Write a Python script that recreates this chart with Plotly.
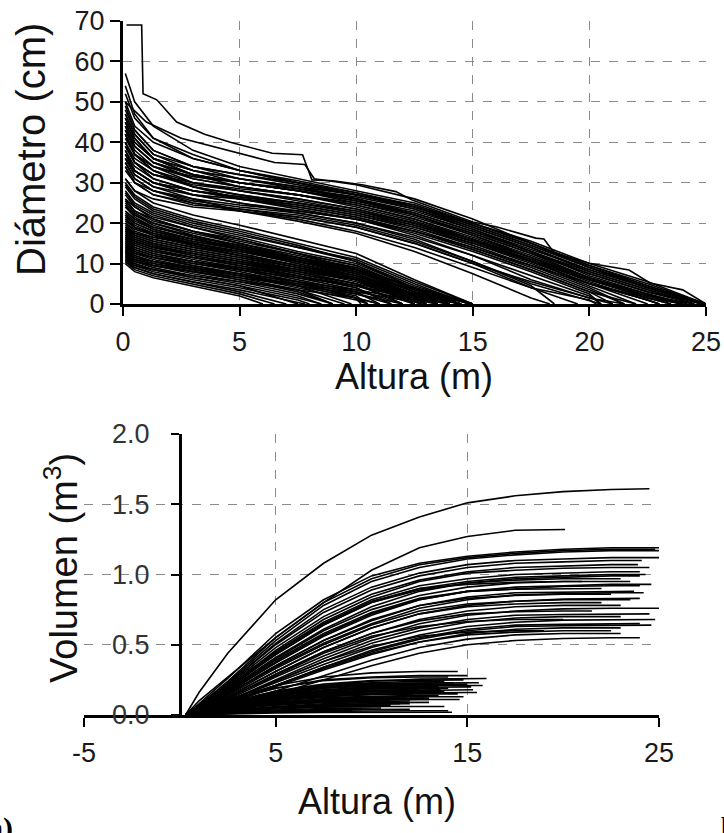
import plotly.graph_objects as go

W, H = 724, 833

# ---------------- Top panel: diameter profiles (Altura m, Diámetro cm) ----------------
DIAM_HEIGHTS = [0.1, 0.5, 1.3, 3, 5, 7.5, 10, 12.5, 15, 17.5, 20, 22.5]

# large trees: (total height, diameters at DIAM_HEIGHTS)
LARGE_STEMS = [
    (25.0, [57, 50, 44, 38, 34, 31, 28, 25, 20, 15, 9, 4]),
    (24.8, [52, 46, 41, 37, 33, 30, 27, 24, 19, 14, 8, 3.5]),
    (24.5, [50, 44, 40, 36, 33, 30, 27, 23.5, 18.5, 13, 7.5, 3]),
    (24.2, [48, 43, 38, 34, 31, 29, 26, 22.5, 18, 13, 7, 2.5]),
    (24.0, [47, 42, 37, 33, 30, 28, 25.5, 22, 17.5, 12.5, 6.5, 2.5]),
    (24.0, [46, 41, 36, 33, 31, 28.5, 26, 22, 17, 12, 6.5, 2]),
    (23.5, [45, 40, 36, 32, 30, 28, 25, 21.5, 17, 11.5, 6, 1.5]),
    (23.5, [44, 39, 35, 31, 29, 27, 24.5, 21, 16.5, 11.5, 6, 1.5]),
    (23.0, [43, 38, 34, 31, 29, 27, 24, 20.5, 16, 11, 5.5, 1]),
    (23.0, [42, 37, 34, 30, 28, 26, 23.5, 20, 15.5, 10.5, 5, 1]),
    (22.0, [41, 37, 33, 30, 28, 25.5, 23, 19.5, 15, 10, 4.5]),
    (21.5, [40, 36, 33, 29, 27, 25, 22.5, 19, 14.5, 9.5, 4]),
    (24.0, [40, 35, 32, 29, 27, 25, 22.5, 19.5, 15.5, 11, 6, 2]),
    (21.5, [39, 35, 31, 28, 26, 24.5, 22, 18.5, 14, 9, 3.5]),
    (24.5, [38, 34, 31, 28, 26.5, 24.5, 22, 19, 15, 10.5, 6, 2]),
    (21.0, [37, 33, 30, 27, 26, 24, 21.5, 18, 13.5, 8.5, 3]),
    (20.5, [36, 32, 29, 27, 25, 23, 21, 17.5, 13, 8, 2.5]),
    (24.0, [35, 31, 28, 26, 24.5, 23, 21, 18, 14, 9.5, 5, 1.5]),
    (20.5, [34, 30, 28, 25.5, 24, 22.5, 20, 16.5, 12, 7, 2]),
    (20.5, [33, 30, 27, 25, 23.5, 22, 19.5, 15.5, 10.5, 5, 0.8]),
    (25.0, [44, 39, 35, 32, 30, 28.5, 26.5, 23.5, 19, 14, 8.5, 4]),
    (25.0, [49, 43, 38, 34, 32, 29.5, 27, 24, 20, 15, 9.5, 4.5]),
    (20.3, [36, 32, 29, 26, 23, 21, 18, 14, 9, 4, 1]),
    (21.0, [42, 37, 33, 29, 26, 23.5, 21, 17, 12, 6, 1.5]),
    (18.5, [38, 33, 30, 27, 25, 22.5, 20, 16, 10.5, 4.5]),
    (18.3, [35, 31, 28, 25, 23, 20.5, 17.5, 13, 7.5, 1.5]),
    (25.0, [45, 40, 36, 33, 31, 29, 27, 24.5, 20, 15.5, 10, 5.5]),
    (25.0, [40, 35, 32, 30, 28.5, 27, 25, 22, 17.5, 12.5, 7.5, 3]),
    (21.5, [31, 28, 26, 24, 23, 21.5, 19, 15, 10, 5.5, 1.5]),
    (25.0, [47, 42, 37, 34, 32, 30, 27.5, 24.5, 19.5, 14.5, 9, 4.5]),
    (24.5, [43, 39, 35, 32, 30, 28, 25.5, 22.5, 18, 13, 8, 3.5]),
    (23.0, [39, 35, 32, 29.5, 28, 26, 23.5, 20, 15.5, 10.5, 5, 1]),
    (22.5, [46, 41, 36, 32, 29, 27, 24.5, 21, 16, 10.5, 5]),
    (24.0, [37, 33, 30, 28, 26.5, 25, 23, 20, 16, 11.5, 6.5, 2]),
    (25.0, [42, 37, 34, 31.5, 30, 28, 26, 23, 18.5, 13.5, 8.5, 4]),
    (19.5, [34, 30, 27, 24.5, 23.5, 21.5, 19, 15, 10, 4]),
    (24.8, [54, 47, 41, 36, 33, 30.5, 27.5, 24, 19.5, 14.5, 9, 4]),
    (22.0, [36, 33, 30, 28, 26, 24, 21.5, 18, 13.5, 8.5, 3]),
]

# the two irregular large stems (explicit height / diameter readings)
OUTLIER_H = [0.15, 0.8, 0.86, 1.45, 2.3, 3.5, 4.6, 6.4, 7.7, 8.1, 9.0, 10.25, 11.7,
             12.4, 15.0, 16.0, 17.7, 18.05, 18.5, 20.0, 21.7, 22.6, 24.0, 25.0]
OUTLIER_D = [69, 69, 52, 50.5, 45, 42, 40, 37.3, 36.9, 30.7, 30.5, 29.5, 27.8,
             25.7, 20.3, 19.1, 16.3, 16.1, 12.6, 10.1, 8.4, 5.2, 3.5, 0]
SECOND_H = [0.1, 1.0, 2.5, 4.5, 6.5, 7.8, 8.2, 10, 12.5, 15, 17.5, 20, 22.5, 25]
SECOND_D = [50, 45, 41, 38, 35, 34.5, 31, 29.5, 26, 21, 15, 9.5, 5, 0]

# small trees: (total height, diameters at DIAM_HEIGHTS)
SMALL_STEMS = [
    (15.0, [31, 28, 25, 22, 19.5, 16, 12.5, 6]),
    (15.0, [30, 27, 24, 21, 18.5, 15, 11.5, 5.5]),
    (14.8, [29, 26, 23, 20, 17.5, 14, 11, 5]),
    (15.0, [28, 25, 22.5, 19.5, 17, 14, 10.5, 4.5]),
    (14.5, [27, 24, 21.5, 19, 16.5, 13, 10, 4]),
    (15.0, [26, 23, 21, 18, 16, 12.5, 9.5, 3.5]),
    (14.5, [25, 22.5, 20, 17.5, 15, 12, 9, 3]),
    (15.0, [24, 21.5, 19, 17, 14.5, 11.5, 8.5, 3]),
    (14.0, [23, 21, 18.5, 16, 14, 11, 8, 2.5]),
    (14.5, [22, 20, 18, 15.5, 13.5, 10.5, 7.5, 2]),
    (13.5, [21, 19, 17, 15, 13, 10, 7, 1.5]),
    (14.0, [20, 18, 16.5, 14.5, 12.5, 9.5, 6.5, 1.5]),
    (13.0, [19.5, 17.5, 16, 14, 12, 9, 6, 1]),
    (12.8, [19, 17, 15.5, 13.5, 11.5, 8.5, 5.5]),
    (12.0, [18.5, 16.5, 15, 13, 11, 8, 5]),
    (12.5, [18, 16, 14.5, 12.5, 10.5, 7.5, 4.5]),
    (11.5, [17.5, 15.5, 14, 12, 10, 7, 4]),
    (12.0, [17, 15, 13.5, 11.5, 9.5, 6.5, 3.5]),
    (11.0, [16.5, 14.5, 13, 11, 9, 6, 3]),
    (11.5, [16, 14, 12.5, 10.5, 8.5, 5.5, 2.5]),
    (10.5, [15.5, 13.5, 12, 10, 8, 5, 2]),
    (11.0, [15, 13, 11.5, 9.5, 7.5, 4.5, 1.5]),
    (10.5, [14.5, 12.5, 11, 9, 7, 4, 1]),
    (9.5, [14, 12, 10.5, 8.5, 6.5, 3.5]),
    (9.0, [13.5, 11.5, 10, 8, 6, 3]),
    (9.0, [13, 11, 9.5, 7.5, 5.5, 2.5]),
    (8.5, [12.5, 10.5, 9, 7, 5, 2]),
    (8.5, [12, 10, 8.5, 6.5, 4.5, 1.5]),
    (8.0, [11.5, 9.5, 8, 6, 4, 1]),
    (7.8, [11, 9, 7.5, 5.5, 3.5, 0.5]),
    (6.5, [10.5, 8.5, 7, 5, 2.5]),
    (6.0, [10, 8, 6.5, 4.5, 2]),
    (13.5, [24, 22, 20, 17, 14, 10.5, 7, 2]),
    (15.0, [22, 20, 18, 16, 14, 11.5, 9, 4]),
    (15.0, [20, 18.5, 17, 15, 13, 10.5, 8, 3.5]),
    (14.0, [18, 16.5, 15, 13, 11, 8.5, 6, 2]),
    (14.5, [16, 14.5, 13, 11.5, 10, 8, 6, 2.5]),
    (14.0, [14, 12.5, 11.5, 10, 8.5, 6.5, 4.5, 1.5]),
    (13.5, [13, 11.5, 10.5, 9, 7.5, 5.5, 3.5, 1]),
    (12.0, [12, 10.5, 9.5, 8, 6.5, 4.5, 2.5]),
    (14.0, [26, 24, 21, 18, 15, 11.5, 8, 3]),
    (15.0, [21, 19, 17.5, 15.5, 13.5, 11, 8.5, 4]),
    (13.0, [15, 13.5, 12, 10.5, 9, 7, 4.5, 1]),
    (11.0, [11, 9.5, 8.5, 7, 5.5, 3.5, 1.5]),
    (13.5, [17, 15.5, 14, 12, 10, 7.5, 5, 1.5]),
    (14.5, [23, 21, 19, 16.5, 14.5, 11, 7.5, 2.5]),
    (14.5, [19, 17.5, 16, 14, 12, 9.5, 7, 2.5]),
    (12.8, [13, 11, 10, 8.5, 7, 5, 3, 0.5]),
    (14.0, [29.5, 26.5, 23.5, 20.5, 18, 14.5, 10.5, 4]),
    (13.0, [27.5, 24.5, 22, 19, 16, 12.5, 8.5, 2]),
    (14.5, [25.5, 23, 20.5, 18, 15.5, 12.5, 9.5, 3.5]),
    (13.5, [22.5, 20.5, 18.5, 16, 13.5, 10.5, 7.5, 2]),
    (12.5, [21.5, 19.5, 17.5, 15, 12.5, 9.5, 6]),
    (13.0, [18.5, 17, 15.5, 13.5, 11.5, 9, 6.5, 1.5]),
    (12.0, [17.5, 16, 14.5, 12.5, 10.5, 8, 5]),
    (11.5, [16.5, 15, 13.5, 11.5, 9.5, 7, 4]),
    (10.2, [15.5, 14, 12.5, 10.5, 8.5, 5.5, 1.5]),
    (9.8, [14.5, 13, 11.5, 9.5, 7.5, 4.5]),
    (10.5, [13.5, 12, 10.5, 9, 7, 4.5, 1.5]),
    (9.0, [12.5, 11, 9.5, 8, 6, 3.5]),
    (7.5, [11.5, 10, 8.5, 6.5, 4.5]),
    (7.0, [10.5, 9, 7.5, 5.5, 3]),
    (12.5, [20.5, 19, 17, 14.5, 12, 9, 6]),
    (14.0, [16.5, 15.5, 14, 12.5, 10.5, 8.5, 6.5, 2]),
    (13.0, [24.5, 22, 19.5, 16.5, 13.5, 10, 6.5, 1]),
    (15.0, [18.5, 17.5, 16.5, 15, 13, 11, 8.5, 4]),
]

# ---------------- Bottom panel: cumulative volume (Altura m, Volumen m3) ----------------
VOL_HEIGHTS = [0.3, 1, 2.5, 5, 7.5, 10, 12.5, 15, 17.5, 20, 22.5]

# (total height, final volume, volumes at VOL_HEIGHTS)
LARGE_VOLUMES = [
    (24.5, 1.61, [0, 0.16, 0.44, 0.82, 1.08, 1.28, 1.41, 1.51, 1.56, 1.59, 1.605]),
    (20.1, 1.32, [0, 0.10, 0.27, 0.55, 0.80, 1.03, 1.19, 1.27, 1.315]),
    (25.0, 1.19, [0, 0.08, 0.26, 0.58, 0.82, 0.99, 1.08, 1.13, 1.16, 1.18, 1.19]),
    (24.8, 1.18, [0, 0.07, 0.24, 0.55, 0.80, 0.97, 1.07, 1.12, 1.15, 1.17, 1.18]),
    (25.0, 1.17, [0, 0.07, 0.23, 0.53, 0.78, 0.95, 1.05, 1.11, 1.14, 1.16, 1.17]),
    (24.1, 1.10, [0, 0.07, 0.22, 0.50, 0.73, 0.89, 0.99, 1.05, 1.08, 1.09, 1.10]),
    (23.9, 1.07, [0, 0.06, 0.21, 0.48, 0.70, 0.86, 0.96, 1.02, 1.05, 1.06, 1.07]),
    (24.0, 1.02, [0, 0.06, 0.20, 0.45, 0.66, 0.82, 0.92, 0.97, 1.00, 1.01, 1.02]),
    (24.3, 1.00, [0, 0.06, 0.19, 0.43, 0.64, 0.80, 0.90, 0.95, 0.98, 0.99, 1.00]),
    (24.0, 0.99, [0, 0.05, 0.18, 0.41, 0.61, 0.77, 0.88, 0.94, 0.97, 0.98, 0.99]),
    (23.0, 0.97, [0, 0.06, 0.19, 0.43, 0.64, 0.80, 0.89, 0.94, 0.96, 0.97, 0.97]),
    (21.0, 0.95, [0, 0.06, 0.19, 0.44, 0.65, 0.81, 0.90, 0.93, 0.945, 0.95]),
    (24.6, 0.93, [0, 0.05, 0.16, 0.37, 0.56, 0.71, 0.82, 0.88, 0.91, 0.92, 0.93]),
    (24.0, 0.92, [0, 0.05, 0.16, 0.38, 0.57, 0.72, 0.82, 0.88, 0.90, 0.915, 0.92]),
    (22.0, 0.90, [0, 0.05, 0.17, 0.39, 0.58, 0.73, 0.83, 0.88, 0.895, 0.90]),
    (23.7, 0.88, [0, 0.05, 0.15, 0.35, 0.53, 0.67, 0.78, 0.84, 0.87, 0.875, 0.88]),
    (22.5, 0.86, [0, 0.05, 0.15, 0.35, 0.53, 0.68, 0.78, 0.83, 0.85, 0.86]),
    (24.0, 0.83, [0, 0.04, 0.13, 0.31, 0.48, 0.62, 0.72, 0.78, 0.81, 0.825, 0.83]),
    (22.0, 0.80, [0, 0.04, 0.13, 0.31, 0.48, 0.62, 0.72, 0.77, 0.79, 0.80]),
    (25.1, 0.76, [0, 0.04, 0.11, 0.27, 0.42, 0.55, 0.65, 0.71, 0.74, 0.755, 0.76]),
    (21.5, 0.74, [0, 0.04, 0.12, 0.29, 0.45, 0.58, 0.67, 0.72, 0.735, 0.74]),
    (24.5, 0.72, [0, 0.03, 0.10, 0.25, 0.40, 0.53, 0.62, 0.68, 0.71, 0.715, 0.72]),
    (23.0, 0.70, [0, 0.03, 0.10, 0.24, 0.38, 0.51, 0.60, 0.66, 0.69, 0.70, 0.70]),
    (20.0, 0.68, [0, 0.04, 0.12, 0.28, 0.44, 0.56, 0.63, 0.665, 0.68]),
    (24.0, 0.65, [0, 0.03, 0.09, 0.21, 0.34, 0.46, 0.55, 0.61, 0.64, 0.645, 0.65]),
    (24.6, 0.64, [0, 0.03, 0.09, 0.21, 0.34, 0.45, 0.54, 0.60, 0.63, 0.635, 0.64]),
    (23.0, 0.62, [0, 0.03, 0.08, 0.20, 0.32, 0.43, 0.52, 0.58, 0.61, 0.62, 0.62]),
    (19.0, 0.60, [0, 0.03, 0.10, 0.24, 0.38, 0.49, 0.56, 0.59, 0.60]),
    (23.0, 0.58, [0, 0.02, 0.07, 0.17, 0.28, 0.39, 0.48, 0.54, 0.57, 0.58, 0.58]),
    (24.0, 0.55, [0, 0.02, 0.06, 0.15, 0.25, 0.35, 0.44, 0.50, 0.53, 0.545, 0.55]),
    (24.5, 1.05, [0, 0.06, 0.20, 0.46, 0.68, 0.84, 0.95, 1.01, 1.03, 1.045, 1.05]),
    (23.5, 0.95, [0, 0.05, 0.17, 0.40, 0.60, 0.75, 0.85, 0.91, 0.94, 0.95, 0.95]),
    (24.2, 0.87, [0, 0.05, 0.15, 0.34, 0.51, 0.65, 0.76, 0.82, 0.855, 0.865, 0.87]),
    (23.0, 0.78, [0, 0.04, 0.12, 0.29, 0.45, 0.58, 0.68, 0.74, 0.77, 0.78, 0.78]),
    (24.8, 0.68, [0, 0.03, 0.10, 0.23, 0.36, 0.48, 0.57, 0.63, 0.66, 0.675, 0.68]),
    (22.5, 0.60, [0, 0.03, 0.09, 0.21, 0.33, 0.44, 0.52, 0.57, 0.59, 0.60]),
    (25.0, 1.12, [0, 0.07, 0.22, 0.51, 0.75, 0.91, 1.01, 1.07, 1.10, 1.11, 1.12]),
    (23.5, 0.82, [0, 0.05, 0.14, 0.33, 0.50, 0.64, 0.74, 0.79, 0.81, 0.82, 0.82]),
]

SMALL_VOLUMES = [
    (14.5, 0.31, [0, 0.03, 0.11, 0.21, 0.27, 0.30, 0.31]),
    (16.0, 0.26, [0, 0.02, 0.08, 0.16, 0.21, 0.24, 0.255, 0.26]),
    (15.8, 0.21, [0, 0.02, 0.07, 0.14, 0.18, 0.20, 0.21, 0.21]),
    (15.5, 0.16, [0, 0.02, 0.06, 0.11, 0.14, 0.155, 0.16, 0.16]),
    (13.8, 0.24, [0, 0.02, 0.08, 0.16, 0.21, 0.23, 0.24]),
    (13.8, 0.06, [0, 0.01, 0.03, 0.05, 0.058, 0.06, 0.06]),
    (15.0, 0.28, [0, 0.03, 0.10, 0.19, 0.25, 0.27, 0.28]),
    (14.0, 0.19, [0, 0.02, 0.07, 0.13, 0.17, 0.185, 0.19]),
    (13.5, 0.14, [0, 0.02, 0.05, 0.10, 0.125, 0.135, 0.14]),
    (13.0, 0.12, [0, 0.01, 0.04, 0.08, 0.105, 0.115, 0.12]),
    (12.5, 0.17, [0, 0.02, 0.06, 0.12, 0.155, 0.168]),
    (12.0, 0.10, [0, 0.01, 0.04, 0.07, 0.09, 0.098]),
    (11.5, 0.08, [0, 0.01, 0.03, 0.055, 0.072, 0.079]),
    (13.2, 0.22, [0, 0.02, 0.08, 0.15, 0.195, 0.215, 0.22]),
    (14.8, 0.25, [0, 0.03, 0.09, 0.17, 0.22, 0.245, 0.25]),
    (15.2, 0.20, [0, 0.02, 0.07, 0.13, 0.17, 0.19, 0.198, 0.20]),
    (12.8, 0.13, [0, 0.01, 0.05, 0.09, 0.115, 0.127, 0.13]),
    (11.0, 0.07, [0, 0.01, 0.03, 0.05, 0.064, 0.07]),
    (10.5, 0.05, [0, 0.01, 0.02, 0.036, 0.046, 0.05]),
    (14.2, 0.02, [0, 0.003, 0.008, 0.015, 0.019, 0.02, 0.02]),
    (9.5, 0.04, [0, 0.005, 0.015, 0.03, 0.038]),
    (13.6, 0.18, [0, 0.02, 0.06, 0.12, 0.16, 0.175, 0.18]),
    (15.6, 0.23, [0, 0.02, 0.08, 0.15, 0.20, 0.22, 0.228, 0.23]),
    (12.2, 0.15, [0, 0.02, 0.05, 0.10, 0.135, 0.148]),
    (14.6, 0.11, [0, 0.01, 0.04, 0.075, 0.097, 0.107, 0.11]),
    (13.0, 0.09, [0, 0.01, 0.03, 0.06, 0.08, 0.088, 0.09]),
    (12.0, 0.04, [0, 0.005, 0.014, 0.027, 0.035, 0.039]),
    (14.0, 0.03, [0, 0.004, 0.011, 0.021, 0.027, 0.029, 0.03]),
    (11.8, 0.12, [0, 0.015, 0.045, 0.085, 0.108, 0.118]),
    (13.3, 0.16, [0, 0.02, 0.055, 0.11, 0.145, 0.157, 0.16]),
    (14.0, 0.27, [0, 0.03, 0.10, 0.19, 0.245, 0.265, 0.27]),
    (15.0, 0.22, [0, 0.02, 0.075, 0.145, 0.19, 0.21, 0.218]),
    (13.5, 0.20, [0, 0.02, 0.07, 0.135, 0.175, 0.195, 0.20]),
    (12.5, 0.18, [0, 0.02, 0.065, 0.125, 0.16, 0.177]),
    (14.5, 0.15, [0, 0.015, 0.05, 0.10, 0.13, 0.145, 0.15]),
    (13.0, 0.11, [0, 0.01, 0.04, 0.075, 0.097, 0.107, 0.11]),
    (12.0, 0.08, [0, 0.01, 0.03, 0.055, 0.071, 0.078]),
    (14.8, 0.13, [0, 0.012, 0.045, 0.088, 0.114, 0.126, 0.13]),
    (11.0, 0.10, [0, 0.012, 0.04, 0.072, 0.091, 0.099]),
    (13.8, 0.17, [0, 0.018, 0.06, 0.115, 0.15, 0.165, 0.17]),
    (10.0, 0.06, [0, 0.008, 0.023, 0.043, 0.055]),
    (15.3, 0.18, [0, 0.018, 0.06, 0.115, 0.15, 0.17, 0.177, 0.18]),
    (12.6, 0.21, [0, 0.022, 0.075, 0.145, 0.19, 0.207, 0.21]),
    (9.0, 0.03, [0, 0.004, 0.012, 0.023, 0.029]),
    (14.3, 0.23, [0, 0.025, 0.08, 0.155, 0.205, 0.225, 0.23]),
]

TOP_XTICKS = [0, 5, 10, 15, 20, 25]
TOP_YTICKS = [0, 10, 20, 30, 40, 50, 60, 70]
BOT_XTICKS = [-5, 5, 15, 25]
BOT_XLABELS = ["-5", "5", "15", "25"]
BOT_YTICKS = [0.0, 0.5, 1.0, 1.5, 2.0]

# ---------------- figure ----------------
FONT = "Liberation Sans, Arial, sans-serif"
LINE = dict(color="black", width=1.6)
fig = go.Figure()

def add(x, y, xa, ya):
    fig.add_trace(go.Scatter(x=x, y=y, mode="lines", line=LINE, xaxis=xa, yaxis=ya,
                             showlegend=False, hoverinfo="skip"))

for end, d in SMALL_STEMS + LARGE_STEMS:
    add(DIAM_HEIGHTS[:len(d)] + [end], d + [0], "x", "y")
add(SECOND_H, SECOND_D, "x", "y")
add(OUTLIER_H, OUTLIER_D, "x", "y")

for end, vf, v in SMALL_VOLUMES + LARGE_VOLUMES:
    add(VOL_HEIGHTS[:len(v)] + [end], v + [vf], "x2", "y2")

def px(v):
    return v / W

def py(v):
    return 1 - v / H

grid = dict(showgrid=True, gridcolor="#8a8a8a", gridwidth=1, griddash="dash",
            zeroline=False, automargin=False)
tickf = dict(family=FONT, size=27, color="#1a1a1a")

fig.update_layout(
    template="none",
    width=W, height=H, autosize=False,
    margin=dict(l=0, r=0, t=0, b=0, pad=0),
    paper_bgcolor="white", plot_bgcolor="white",
    xaxis=dict(domain=[px(123), px(706)], range=[0, 25], tickvals=TOP_XTICKS,
               anchor="y", showline=True, linecolor="black", linewidth=3,
               ticks="outside", ticklen=9, tickwidth=2, tickcolor="black",
               tickfont=tickf, ticklabelstandoff=3, **grid),
    yaxis=dict(domain=[py(304), py(21)], range=[0, 70], tickvals=TOP_YTICKS,
               anchor="x", showline=True, linecolor="black", linewidth=3,
               ticks="outside", ticklen=10, tickwidth=2, tickcolor="black",
               tickfont=tickf, **grid),
    xaxis2=dict(domain=[px(84), px(659)], range=[-5, 25], tickvals=BOT_XTICKS,
                ticktext=BOT_XLABELS,
                anchor="y2", showline=True, linecolor="black", linewidth=3,
                ticks="outside", ticklen=9, tickwidth=2, tickcolor="black",
                tickfont=tickf, ticklabelstandoff=3, **grid),
    yaxis2=dict(domain=[py(715), py(434)], range=[0, 2.0], tickvals=BOT_YTICKS,
                tickformat=".1f", anchor="free", position=px(180),
                showline=True, linecolor="black", linewidth=3,
                ticks="outside", ticklen=8, tickwidth=2, tickcolor="black",
                tickfont=dict(family=FONT, size=27, color="#333333"),
                ticklabelstandoff=16, **grid),
)

title_font = dict(family=FONT, size=36, color="#111111")
center = dict(xref="paper", yref="paper", showarrow=False, xanchor="center", yanchor="middle")
fig.add_annotation(text="Diámetro (cm)", x=px(31), y=py(150), textangle=-90,
                   font=dict(family=FONT, size=40, color="#111111"), **center)
fig.add_annotation(text="Altura (m)", x=px(414), y=py(376), font=title_font, **center)
fig.add_annotation(text="Volumen (m<sup>3</sup>)", x=px(61), y=py(568), textangle=-90,
                   font=dict(family=FONT, size=38, color="#111111"), **center)
fig.add_annotation(text="Altura (m)", x=px(377), y=py(801), font=title_font, **center)
fig.add_annotation(text="<b>a)</b>", xref="paper", yref="paper", x=px(15), y=py(828),
                   xanchor="right", yanchor="middle", showarrow=False,
                   font=dict(family="Liberation Serif, Times New Roman, serif", size=30, color="black"))
fig.add_annotation(text="<b>b)</b>", xref="paper", yref="paper", x=px(719), y=py(828),
                   xanchor="left", yanchor="middle", showarrow=False,
                   font=dict(family="Liberation Serif, Times New Roman, serif", size=30, color="black"))

fig.write_html("out.html")
